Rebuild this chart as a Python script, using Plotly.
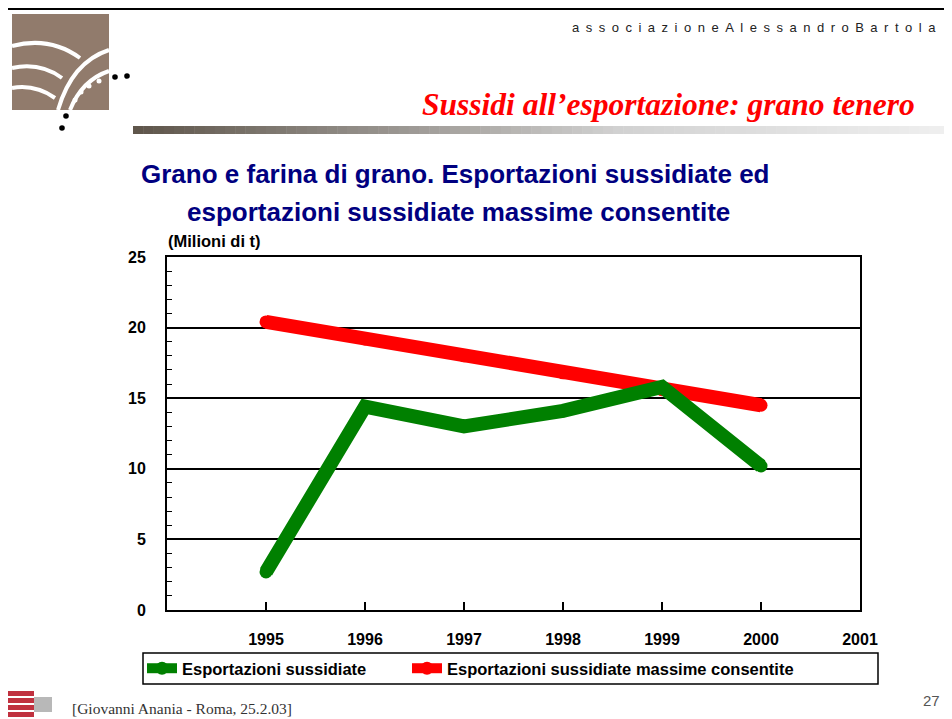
import plotly.graph_objects as go

years = [1995, 1996, 1997, 1998, 1999, 2000]
export_subsidised = [2.7, 14.4, 13.0, 14.1, 15.8, 10.2]
export_max_allowed = [20.4, 19.2, 18.0, 16.8, 15.6, 14.5]
x_ticks = [1995, 1996, 1997, 1998, 1999, 2000, 2001]
y_ticks = [0, 5, 10, 15, 20, 25]

OFF = 8  # page body margin
SW, SH = 952, 719
W, H = SW - OFF, SH - OFF
L, R, T, B = 167, 860, 257, 610  # plot area in screenshot pixels


def px(x):
    return (x - L) / (R - L)


def py(y):
    return (B - y) / (B - T)


fig = go.Figure()
fig.add_trace(go.Scatter(x=years, y=export_max_allowed, mode="lines+markers",
                         name="Esportazioni sussidiate massime consentite",
                         line=dict(color="#ff0000", width=14),
                         marker=dict(symbol="circle", size=13, color="#ff0000", line=dict(width=0)),
                         legend="legend2"))
fig.add_trace(go.Scatter(x=years, y=export_subsidised, mode="lines+markers",
                         name="Esportazioni sussidiate",
                         line=dict(color="#008000", width=14),
                         marker=dict(symbol="circle", size=13, color="#008000", line=dict(width=0)),
                         legend="legend"))

shapes = []
# slide frame
shapes.append(dict(type="line", xref="paper", yref="paper", x0=px(4), x1=px(952), y0=py(5), y1=py(5),
                   line=dict(color="#9a9a9a", width=1)))
shapes.append(dict(type="line", xref="paper", yref="paper", x0=px(4), x1=px(952), y0=py(8.5), y1=py(8.5),
                   line=dict(color="black", width=3)))
shapes.append(dict(type="line", xref="paper", yref="paper", x0=px(5.5), x1=px(5.5), y0=py(7), y1=py(690),
                   line=dict(color="black", width=3)))

# gradient bar
stops = [(133, (94, 85, 74)), (400, (155, 151, 146)), (620, (210, 210, 210)), (950, (240, 240, 240))]


def grad(x):
    for (xa, ca), (xb, cb) in zip(stops[:-1], stops[1:]):
        if xa <= x <= xb:
            t = (x - xa) / (xb - xa)
            return tuple(int(ca[i] + (cb[i] - ca[i]) * t) for i in range(3))
    return stops[-1][1]


n = 80
for i in range(n):
    xa = 133 + (950 - 133) * i / n
    xb = 133 + (950 - 133) * (i + 1) / n + 0.5
    c = grad((xa + xb) / 2)
    shapes.append(dict(type="rect", xref="paper", yref="paper", x0=px(xa), x1=px(xb), y0=py(126), y1=py(134),
                       fillcolor="rgb(%d,%d,%d)" % c, line=dict(width=0), layer="below"))

# logo square
shapes.append(dict(type="rect", xref="paper", yref="paper", x0=px(12), x1=px(109), y0=py(14), y1=py(110),
                   fillcolor="#917b6c", line=dict(width=0)))


def path_q(p0, c, p1):
    return "M %f,%f Q %f,%f %f,%f" % (px(p0[0]), py(p0[1]), px(c[0]), py(c[1]), px(p1[0]), py(p1[1]))


for (p0, c, p1, w) in [
    ((12, 46), (50, 36), (80, 58), 4),
    ((12, 68), (40, 62), (62, 78), 4),
    ((12, 88), (35, 84), (55, 98), 4),
    ((58, 110), (72, 62), (109, 50), 4),
    ((70, 110), (82, 80), (109, 71), 4),
]:
    shapes.append(dict(type="path", xref="paper", yref="paper", path=path_q(p0, c, p1),
                       line=dict(color="white", width=w)))
for (cx, cy, r, col) in [(75, 100, 2.5, "white"), (81, 92, 2.5, "white"), (89, 86, 2.5, "white"), (99, 81, 2.5, "white"),
                         (115, 77, 2.8, "black"), (127, 76, 2.8, "black"), (66, 116, 2.8, "black"), (62, 128, 2.8, "black")]:
    shapes.append(dict(type="circle", xref="paper", yref="paper", x0=px(cx - r), x1=px(cx + r),
                       y0=py(cy - r), y1=py(cy + r), fillcolor=col, line=dict(width=0)))

# bottom-left logo
for k in range(4):
    shapes.append(dict(type="rect", xref="paper", yref="paper", x0=px(3), x1=px(34),
                       y0=py(691 + k * 7), y1=py(696 + k * 7), fillcolor="#c0313f", line=dict(width=0)))
shapes.append(dict(type="rect", xref="paper", yref="paper", x0=px(34), x1=px(52), y0=py(697), y1=py(712),
                   fillcolor="#b8b8b8", line=dict(width=0)))

# legend box
shapes.append(dict(type="rect", xref="paper", yref="paper", x0=px(143), x1=px(878), y0=py(653), y1=py(684),
                   line=dict(color="black", width=1.5), fillcolor="rgba(0,0,0,0)"))

annotations = [
    dict(text="a\u2002s\u2002s\u2002o\u2002c\u2002i\u2002a\u2002z\u2002i\u2002o\u2002n\u2002e\u2002A\u2002l\u2002e\u2002s\u2002s\u2002a\u2002n\u2002d\u2002r\u2002o\u2002B\u2002a\u2002r\u2002t\u2002o\u2002l\u2002a",
         x=px(938), y=py(27), xanchor="right", yanchor="middle",
         font=dict(family="Liberation Sans", size=13, color="#222222")),
    dict(text="<b><i>Sussidi all\u2019esportazione: grano tenero</i></b>", x=px(917), y=py(104),
         xanchor="right", yanchor="middle", font=dict(family="Liberation Serif", size=31.5, color="#ff0000")),
    dict(text="<b>Grano e farina di grano. Esportazioni sussidiate ed</b>", x=px(455), y=py(174),
         xanchor="center", yanchor="middle", font=dict(family="Liberation Sans", size=26, color="#000080")),
    dict(text="<b>esportazioni sussidiate massime consentite</b>", x=px(458), y=py(212),
         xanchor="center", yanchor="middle", font=dict(family="Liberation Sans", size=26, color="#000080")),
    dict(text="<b>(Milioni di t)</b>", x=px(166), y=py(241), xanchor="left", yanchor="middle",
         font=dict(family="Liberation Sans", size=16.5, color="black")),
    dict(text="[Giovanni Anania - Roma, 25.2.03]", x=px(70), y=py(708), xanchor="left", yanchor="middle",
         font=dict(family="Liberation Serif", size=15.5, color="#333333")),
    dict(text="27", x=px(942), y=py(700), xanchor="right", yanchor="middle",
         font=dict(family="Liberation Sans", size=15, color="#555555")),
]
for a in annotations:
    a.update(xref="paper", yref="paper", showarrow=False)

leg_font = dict(family="Liberation Sans", size=16.5, color="black", weight="bold")
fig.update_layout(
    width=W, height=H,
    margin=dict(l=L - OFF, r=SW - R, t=T - OFF, b=SH - B, pad=0),
    paper_bgcolor="white", plot_bgcolor="white",
    showlegend=True,
    legend=dict(orientation="h", x=px(142), y=py(668.5), xanchor="left", yanchor="middle",
                font=leg_font, bgcolor="rgba(0,0,0,0)", borderwidth=0),
    legend2=dict(orientation="h", x=px(407), y=py(668.5), xanchor="left", yanchor="middle",
                 font=leg_font, bgcolor="rgba(0,0,0,0)", borderwidth=0),
    shapes=shapes,
    annotations=annotations,
    xaxis=dict(range=[1994, 2001], tickvals=x_ticks, ticktext=[str(v) for v in x_ticks],
               showgrid=False, zeroline=False, showline=True, linecolor="black", linewidth=2, mirror=True,
               ticks="inside", ticklen=8, tickwidth=1.5, tickcolor="black", ticklabelstandoff=14,
               tickfont=dict(family="Liberation Sans", size=16, color="black", weight="bold")),
    yaxis=dict(range=[0, 25], tickvals=y_ticks, showgrid=True, gridcolor="black", gridwidth=1.5,
               zeroline=False, showline=True, linecolor="black", linewidth=2, mirror=True,
               ticks="inside", ticklen=5, tickcolor="black", ticklabelstandoff=16,
               minor=dict(dtick=1, ticks="inside", ticklen=5, tickcolor="black", showgrid=False),
               tickfont=dict(family="Liberation Sans", size=16, color="black", weight="bold")),
)

fig.write_html("out.html")
